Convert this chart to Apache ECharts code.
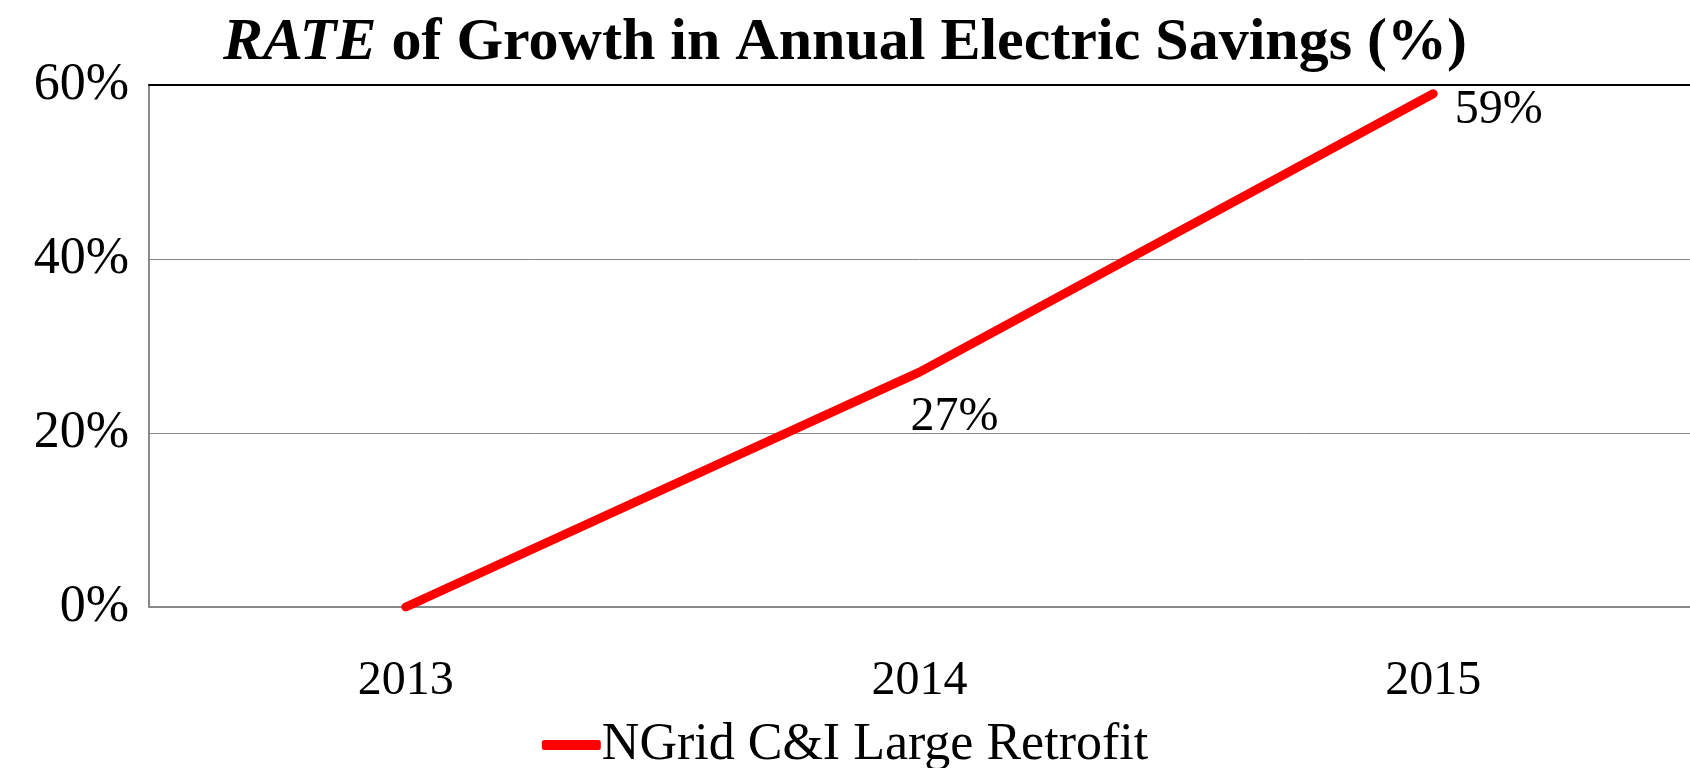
<!DOCTYPE html>
<html>
<head>
<meta charset="utf-8">
<script src="https://cdn.jsdelivr.net/npm/echarts@6/dist/echarts.min.js"></script>
<style>
  html, body { margin: 0; padding: 0; background: #fff; }
  #chart { width: 1690px; height: 768px; }
</style>
</head>
<body>
<div id="chart"></div>
<script>
// 年份与增长率
var years = ['2013', '2014', '2015'];
var growth = [0, 27, 59];
var seriesName = 'NGrid C&I Large Retrofit';
var yTicks = [0, 20, 40, 60];

var font = '"Liberation Serif", "DejaVu Serif", serif';
var chart = echarts.init(document.getElementById('chart'));

// 数据标签位置（2013 不显示）
var labelCfg = [
    { show: false },
    { show: true, position: 'bottom', distance: 6, offset: [35, 15] },
    { show: true, position: 'right', distance: 21, offset: [0, 17] }
];
var points = growth.map(function (v, k) {
    return { value: v, label: labelCfg[k] };
});

var option = {
    animation: false,
    title: {
        text: '{it|RATE}{b| of Growth in Annual Electric Savings (%)}',
        left: 'center',
        top: 8,
        textStyle: {
            rich: {
                it: { fontFamily: font, fontSize: 60, fontStyle: 'italic', color: '#000' },
                b: { fontFamily: font, fontSize: 60, fontWeight: 'bold', color: '#000' }
            }
        }
    },
    grid: { left: 149, right: 0, top: 85, bottom: 161, containLabel: false },
    legend: {
        bottom: -8,
        left: 'center',
        icon: 'roundRect',
        itemWidth: 59,
        itemHeight: 10,
        itemGap: 0,
        textStyle: { fontFamily: font, fontSize: 52, color: '#000', padding: [0, 0, 0, -4] },
        data: [seriesName]
    },
    xAxis: [{
        type: 'category',
        data: years,
        axisLine: { lineStyle: { color: '#888', width: 2 } },
        axisTick: { show: false },
        axisLabel: { fontFamily: font, fontSize: 48, color: '#000', margin: 50 }
    }, {
        type: 'category',
        data: years,
        position: 'top',
        axisLine: { lineStyle: { color: '#000', width: 2 } },
        axisTick: { show: false },
        axisLabel: { show: false }
    }],
    yAxis: {
        type: 'value',
        min: yTicks[0],
        max: yTicks[yTicks.length - 1],
        interval: 20,
        axisLine: { show: true, lineStyle: { color: '#888', width: 2 } },
        axisTick: { show: false },
        splitLine: { lineStyle: { color: '#888', width: 1 } },
        axisLabel: {
            fontFamily: font, fontSize: 52, color: '#000', margin: 20,
            formatter: function (v) { return v + '%'; }
        }
    },
    series: [{
        name: seriesName,
        type: 'line',
        data: points,
        symbol: 'circle',
        symbolSize: 1,
        showSymbol: true,
        lineStyle: { color: '#ff0000', width: 9, cap: 'round' },
        itemStyle: { color: '#ff0000' },
        label: {
            fontFamily: font, fontSize: 48, color: '#000',
            formatter: function (p) { return p.value + '%'; }
        }
    }]
};
chart.setOption(option);
</script>
</body>
</html>
